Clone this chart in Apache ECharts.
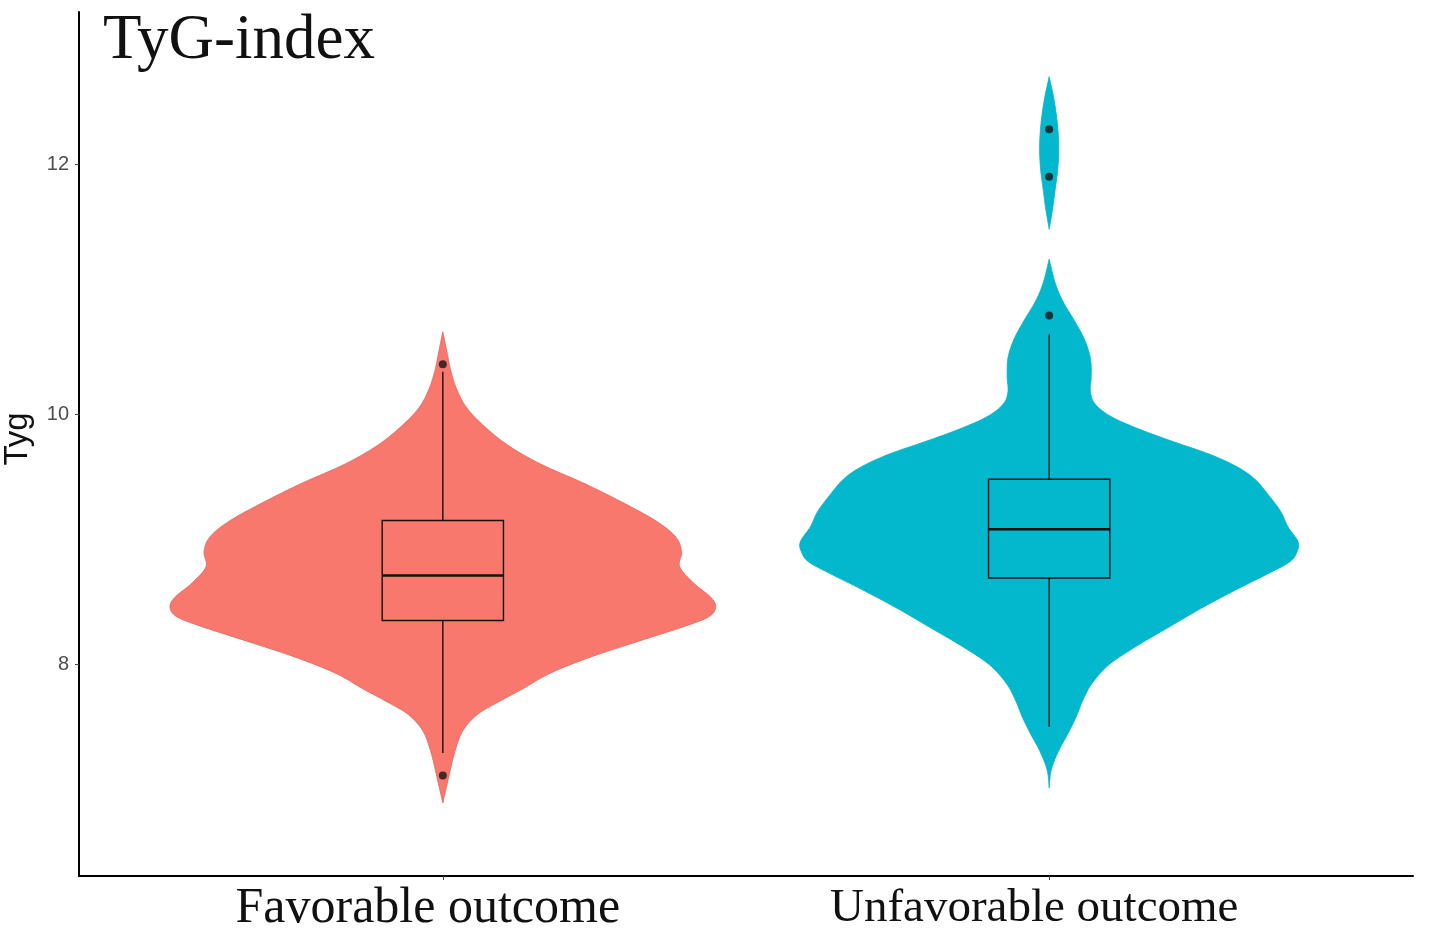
<!DOCTYPE html>
<html>
<head>
<meta charset="utf-8">
<script src="https://cdn.jsdelivr.net/npm/echarts@6/dist/echarts.min.js"></script>
<style>html,body{margin:0;padding:0;background:#fff;}#c{width:1429px;height:945px;}</style>
</head>
<body>
<div id="c"></div>
<script>
// ---------- data ----------
const categories = ['Favorable outcome', 'Unfavorable outcome'];
const yTicks = [8, 10, 12];
// [value, relative density] (1 = widest violin)
const favDensity = [
  [10.66, 0], [10.50, 0.015], [10.35, 0.029], [10.20, 0.051], [10.05, 0.088],
  [9.90, 0.154], [9.75, 0.24], [9.60, 0.36], [9.45, 0.515], [9.30, 0.654],
  [9.15, 0.779], [9.02, 0.853], [8.90, 0.875], [8.78, 0.868], [8.65, 0.919],
  [8.54, 0.98], [8.46, 1.0], [8.38, 0.975], [8.30, 0.882], [8.20, 0.74],
  [8.06, 0.545], [7.93, 0.395], [7.80, 0.29], [7.70, 0.205], [7.60, 0.128],
  [7.47, 0.074], [7.30, 0.044], [7.10, 0.022], [6.89, 0]
];
const unfDensity = [
  [12.70, 0], [12.55, 0.015], [12.40, 0.026], [12.25, 0.033], [12.10, 0.035],
  [11.95, 0.031], [11.80, 0.022], [11.65, 0.013], [11.48, 0],
  [11.24, 0], [11.05, 0.022], [10.90, 0.051], [10.75, 0.092], [10.60, 0.129],
  [10.45, 0.151], [10.30, 0.154], [10.18, 0.151], [10.08, 0.169], [9.98, 0.228],
  [9.88, 0.331], [9.78, 0.456], [9.68, 0.588], [9.58, 0.688], [9.48, 0.754],
  [9.35, 0.805], [9.22, 0.849], [9.10, 0.875], [8.98, 0.912], [8.90, 0.908],
  [8.82, 0.882], [8.72, 0.798], [8.60, 0.688], [8.45, 0.559], [8.30, 0.441],
  [8.15, 0.324], [8.00, 0.221], [7.85, 0.158], [7.72, 0.125], [7.58, 0.099],
  [7.45, 0.07], [7.30, 0.033], [7.15, 0.007], [7.01, 0]
];
// [lower whisker, Q1, median, Q3, upper whisker]
const favBox = [7.29, 8.35, 8.71, 9.15, 10.34];
const unfBox = [7.50, 8.69, 9.08, 9.48, 10.64];
const favOutliers = [10.40, 7.11];
const unfOutliers = [10.79, 11.90, 12.28];

const colors = ['#F8786D', '#03B8CD'];
const strokes = ['#E0675C', '#03B0C6'];

// ---------- helpers ----------
function catmull(pts, n) {
  const out = [];
  for (let i = 0; i < pts.length - 1; i++) {
    const p0 = pts[Math.max(i - 1, 0)], p1 = pts[i], p2 = pts[i + 1], p3 = pts[Math.min(i + 2, pts.length - 1)];
    for (let k = 0; k < n; k++) {
      const t = k / n, t2 = t * t, t3 = t2 * t;
      const f = (a, b, c, d) => 0.5 * ((2 * b) + (-a + c) * t + (2 * a - 5 * b + 4 * c - d) * t2 + (-a + 3 * b - 3 * c + d) * t3);
      out.push([f(p0[0], p1[0], p2[0], p3[0]), f(p0[1], p1[1], p2[1], p3[1])]);
    }
  }
  out.push(pts[pts.length - 1]);
  return out;
}

function violinSeries(idx, dens) {
  const cx = idx + 1;
  return {
    type: 'custom',
    z: 1,
    silent: true,
    data: [[cx]],
    renderItem: function (params, api) {
      const segs = [];
      let seg = [dens[0]];
      for (let i = 1; i < dens.length; i++) {
        seg.push(dens[i]);
        if (dens[i][1] === 0) { segs.push(seg); seg = [dens[i]]; }
      }
      const children = [];
      segs.forEach(s => {
        if (Math.max.apply(null, s.map(p => p[1])) === 0) return;
        const c0 = api.coord([cx, s[0][0]]);
        const halfPx = api.size([0.45, 0])[0];
        const side = s.map(p => [p[1] * halfPx, api.coord([cx, p[0]])[1]]);
        const sm = catmull(side, 8).map(p => [Math.max(0, p[0]), p[1]]);
        const right = sm.map(p => [c0[0] + p[0], p[1]]);
        const left = sm.slice().reverse().map(p => [c0[0] - p[0], p[1]]);
        children.push({
          type: 'polygon',
          shape: { points: right.concat(left) },
          style: { fill: colors[idx], stroke: strokes[idx], lineWidth: 0.8 }
        });
      });
      return { type: 'group', children: children };
    }
  };
}

function boxSeries(idx, box) {
  const cx = idx + 1;
  return {
    type: 'custom',
    z: 2,
    silent: true,
    data: [[cx].concat(box)],
    renderItem: function (params, api) {
      const hw = 0.1;
      const lo = api.coord([cx, box[0]]), q1 = api.coord([cx - hw, box[1]]), md = api.coord([cx - hw, box[2]]);
      const q3 = api.coord([cx + hw, box[3]]), hi = api.coord([cx, box[4]]);
      const c = api.coord([cx, box[2]]);
      const mdR = api.coord([cx + hw, box[2]]);
      const ls = { stroke: '#111', lineWidth: 1.4, fill: null };
      return {
        type: 'group',
        children: [
          { type: 'line', shape: { x1: c[0], y1: hi[1], x2: c[0], y2: q3[1] }, style: ls },
          { type: 'line', shape: { x1: c[0], y1: q1[1], x2: c[0], y2: lo[1] }, style: ls },
          { type: 'rect', shape: { x: q1[0], y: q3[1], width: q3[0] - q1[0], height: q1[1] - q3[1] },
            style: { fill: colors[idx], stroke: '#111', lineWidth: 1.4 } },
          { type: 'line', shape: { x1: md[0], y1: md[1], x2: mdR[0], y2: mdR[1] }, style: { stroke: '#111', lineWidth: 2.6 } }
        ]
      };
    }
  };
}

const chart = echarts.init(document.getElementById('c'), null, { renderer: 'canvas' });
chart.setOption({
  animation: false,
  backgroundColor: '#ffffff',
  title: {
    text: 'TyG-index',
    left: 98,
    top: 5,
    textStyle: { fontFamily: 'Liberation Serif', fontSize: 63, fontWeight: 'normal', color: '#111' }
  },
  grid: { left: 79, right: 16, top: 12, bottom: 69, outerBoundsMode: 'none', containLabel: false },
  xAxis: {
    type: 'value',
    min: 0.4,
    max: 2.6,
    splitLine: { show: false },
    axisLine: { show: true, onZero: false, lineStyle: { color: '#000', width: 2 } },
    axisTick: { show: true, length: 4, customValues: [1, 2], lineStyle: { color: '#444', width: 1 } },
    axisLabel: {
      customValues: [1, 2],
      formatter: v => (Math.round(v) === 1 ? '{a|' : '{b|') + categories[Math.round(v) - 1] + '}',
      color: '#111',
      margin: 5,
      padding: [0, 30, 0, 0],
      rich: {
        a: { fontFamily: 'Liberation Serif', fontSize: 50, lineHeight: 56, color: '#111' },
        b: { fontFamily: 'Liberation Serif', fontSize: 47, lineHeight: 56, color: '#111' }
      }
    }
  },
  yAxis: {
    type: 'value',
    min: 6.306,
    max: 13.218,
    name: 'Tyg',
    nameLocation: 'middle',
    nameGap: 45,
    nameRotate: 90,
    nameTextStyle: { fontFamily: 'Liberation Sans', fontSize: 33, color: '#111', padding: [0, 0, 0, 10] },
    splitLine: { show: false },
    axisLine: { show: true, onZero: false, lineStyle: { color: '#000', width: 2 } },
    axisTick: { show: true, length: 4, customValues: yTicks, lineStyle: { color: '#444', width: 1 } },
    axisLabel: {
      customValues: yTicks,
      fontFamily: 'Liberation Sans',
      fontSize: 20,
      color: '#4D4D4D',
      margin: 10
    }
  },
  series: [
    violinSeries(0, favDensity),
    violinSeries(1, unfDensity),
    boxSeries(0, favBox),
    boxSeries(1, unfBox),
    {
      type: 'scatter',
      z: 3,
      silent: true,
      symbolSize: 8,
      itemStyle: { color: '#151515' },
      data: favOutliers.map(v => [1, v]).concat(unfOutliers.map(v => [2, v]))
    }
  ]
});
</script>
</body>
</html>
